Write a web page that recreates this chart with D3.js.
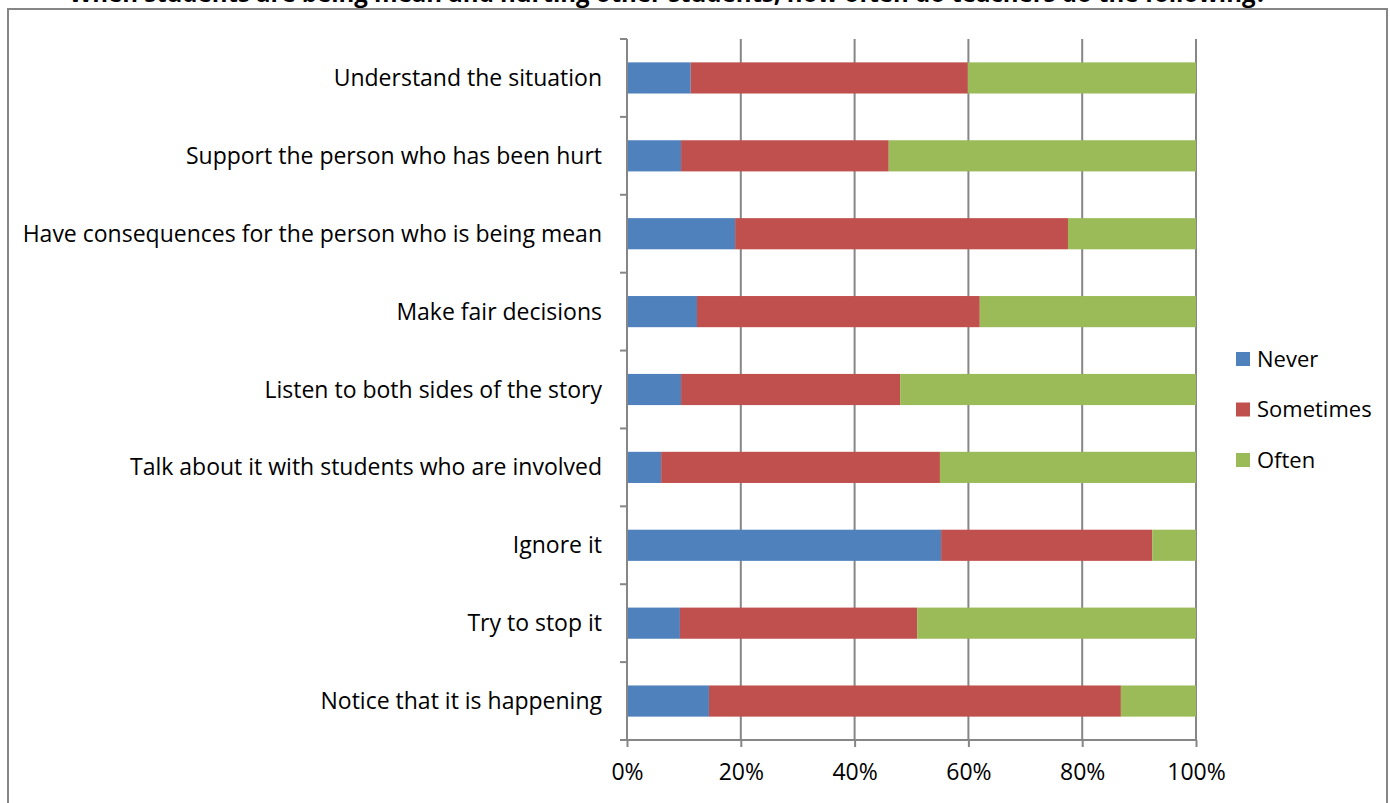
<!DOCTYPE html>
<html>
<head>
<meta charset="utf-8">
<script src="https://cdn.jsdelivr.net/npm/d3@7"></script>
<style>
  body { margin: 0; background: #fff; }
  text { font-family: "Open Sans", "Noto Sans", sans-serif; fill: #000; }
</style>
</head>
<body>
<svg id="chart" width="1390" height="803"></svg>
<script>
const title = "When students are being mean and hurting other students, how often do teachers do the following?";
const categories = [
  "Understand the situation",
  "Support the person who has been hurt",
  "Have consequences for the person who is being mean",
  "Make fair decisions",
  "Listen to both sides of the story",
  "Talk about it with students who are involved",
  "Ignore it",
  "Try to stop it",
  "Notice that it is happening"
];
const seriesNames = ["Never", "Sometimes", "Often"];
const never     = [11.2,  9.5, 19.0, 12.3,  9.5,  6.0, 55.2,  9.3, 14.4];
const sometimes = [48.7, 36.5, 58.5, 49.7, 38.5, 49.0, 37.1, 41.7, 72.4];
const often     = [40.1, 54.0, 22.5, 38.0, 52.0, 45.0,  7.7, 49.0, 13.2];
const xTicks = [0, 0.2, 0.4, 0.6, 0.8, 1];
const colors = ["#4F81BD", "#C0504D", "#9BBB59"];

const svg = d3.select("#chart");
const margin = {left: 627, right: 194, top: 39, bottom: 63};
const W = 1390, H = 803;

// chart area border (bottom edge falls outside the picture)
svg.append("rect")
  .attr("x", 8).attr("y", 9).attr("width", 1379).attr("height", 820)
  .attr("fill", "none").attr("stroke", "#868686").attr("stroke-width", 2);

// title, mostly cropped off the top like the original
svg.append("text")
  .attr("x", 668).attr("y", 2)
  .attr("text-anchor", "middle")
  .style("font-size", "24px").style("font-weight", "bold")
  .text(title);

const rows = categories.map((c, i) => ({cat: c, vals: [never[i], sometimes[i], often[i]]}));
rows.forEach(r => {
  const tot = d3.sum(r.vals);
  let acc = 0;
  r.segs = r.vals.map((v, k) => { const s = {k, x0: acc / tot, x1: (acc + v) / tot}; acc += v; return s; });
});

const x = d3.scaleLinear().domain([0, 1]).range([margin.left, W - margin.right]);
const y = d3.scaleBand().domain(categories).range([margin.top, H - margin.bottom]).paddingInner(0.6).paddingOuter(0.3);

// vertical gridlines
svg.append("g").selectAll("line").data(xTicks.slice(1)).join("line")
  .attr("x1", d => x(d)).attr("x2", d => x(d))
  .attr("y1", margin.top).attr("y2", H - margin.bottom)
  .attr("stroke", "#868686").attr("stroke-width", 2);

// bars
svg.append("g").selectAll("g").data(rows).join("g")
  .selectAll("rect").data(d => d.segs.map(s => ({...s, cat: d.cat}))).join("rect")
  .attr("x", d => x(d.x0))
  .attr("width", d => x(d.x1) - x(d.x0))
  .attr("y", d => y(d.cat))
  .attr("height", y.bandwidth())
  .attr("fill", d => colors[d.k]);

// x axis
const xAxis = d3.axisBottom(x).tickValues(xTicks).tickFormat(d3.format(".0%")).tickSize(7).tickPadding(17);
const gx = svg.append("g").attr("transform", `translate(0,${H - margin.bottom})`).call(xAxis);
gx.select(".domain").remove();
gx.append("line").attr("x1", margin.left - 7).attr("x2", x(1)).attr("y1", 0).attr("y2", 0)
  .attr("stroke", "#868686").attr("stroke-width", 2);
gx.selectAll(".tick line").attr("stroke", "#868686").attr("stroke-width", 2);
gx.selectAll(".tick text").style("font-size", "23px").attr("font-family", null);

// y axis: ticks at category boundaries
const yStep = (H - margin.bottom - margin.top) / categories.length;
const gy = svg.append("g");
gy.append("line").attr("x1", margin.left).attr("x2", margin.left)
  .attr("y1", margin.top).attr("y2", H - margin.bottom)
  .attr("stroke", "#868686").attr("stroke-width", 2);
gy.selectAll("line.t").data(d3.range(categories.length)).join("line").attr("class", "t")
  .attr("x1", margin.left - 7).attr("x2", margin.left)
  .attr("y1", i => margin.top + i * yStep).attr("y2", i => margin.top + i * yStep)
  .attr("stroke", "#868686").attr("stroke-width", 2);
gy.selectAll("text").data(categories).join("text")
  .attr("x", margin.left - 25)
  .attr("y", d => y(d) + y.bandwidth() / 2)
  .attr("dy", "0.35em")
  .attr("text-anchor", "end")
  .style("font-size", "23px")
  .text(d => d);

// legend
const lg = svg.append("g").attr("transform", "translate(1236,352)");
seriesNames.forEach((n, i) => {
  const g = lg.append("g").attr("transform", `translate(0,${i * 50.5})`);
  g.append("rect").attr("width", 14).attr("height", 14).attr("fill", colors[i]);
  g.append("text").attr("x", 21).attr("y", 7).attr("dy", "0.35em").style("font-size", "22px").text(n);
});
</script>
</body>
</html>
